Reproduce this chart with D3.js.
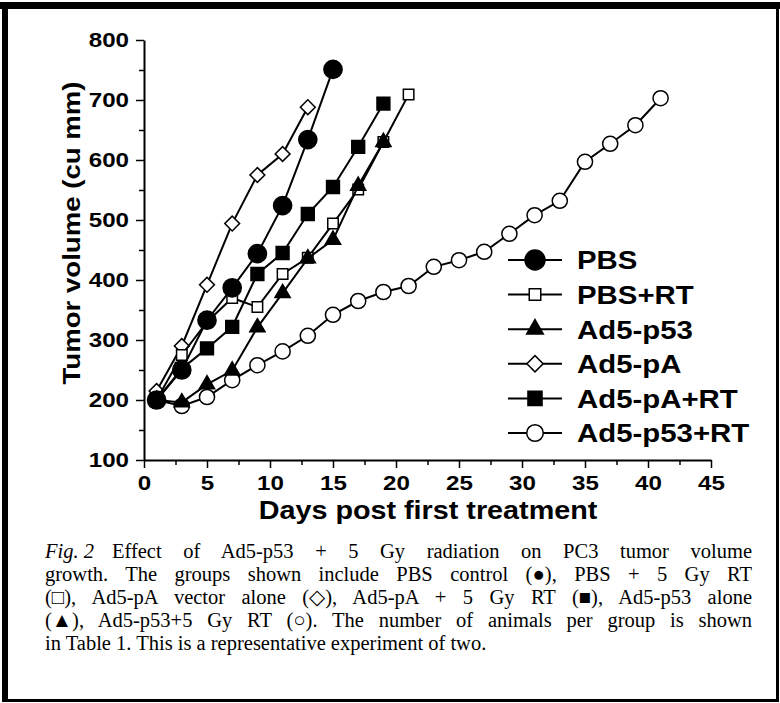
<!DOCTYPE html>
<html>
<head>
<meta charset="utf-8">
<script src="https://cdn.jsdelivr.net/npm/d3@7"></script>
<style>
  body { margin: 0; background: #fff; }
  svg { display: block; }
</style>
</head>
<body>
<svg id="chart"></svg>
<script>
// Tumor volume (cu mm) by day post first treatment
const seriesNames = ["PBS", "PBS+RT", "Ad5-p53", "Ad5-pA", "Ad5-pA+RT", "Ad5-p53+RT"];

const pbsDays = [1, 3, 5, 7, 9, 11, 13, 15];
const pbsVals = [200, 250, 333, 387, 444, 524, 634, 751];

const pbsRtDays = [1, 3, 5, 7, 9, 11, 13, 15, 17, 19, 21];
const pbsRtVals = [200, 275, 330, 370, 355, 410, 437, 494, 551, 630, 709];

const p53Days = [1, 3, 5, 7, 9, 11, 13, 15, 17, 19];
const p53Vals = [200, 196, 226, 249, 321, 378, 436, 467, 557, 630];

const pADays = [1, 3, 5, 7, 9, 11, 13];
const pAVals = [215, 290, 392, 494, 575, 610, 688];

const pARtDays = [1, 3, 5, 7, 9, 11, 13, 15, 17, 19];
const pARtVals = [200, 252, 286, 322, 410, 445, 510, 555, 622, 694];

const p53RtDays = [1, 3, 5, 7, 9, 11, 13, 15, 17, 19, 21, 23, 25, 27, 29, 31, 33, 35, 37, 39, 41];
const p53RtVals = [200, 190, 205, 233, 258, 281, 307, 342, 365, 380, 390, 422, 433, 447, 477, 508, 532, 597, 627, 658, 703];

const xTicks = [0, 5, 10, 15, 20, 25, 30, 35, 40, 45];
const yTicks = [100, 200, 300, 400, 500, 600, 700, 800];

const captionLines = [
    "Effect of Ad5-p53 + 5 Gy radiation on PC3 tumor volume",
    "growth. The groups shown include PBS control (\u25CF), PBS + 5 Gy RT",
    "(\u25A1), Ad5-pA vector alone (\u25C7), Ad5-pA + 5 Gy RT (\u25A0), Ad5-p53 alone",
    "(\u25B2), Ad5-p53+5 Gy RT (\u25CB). The number of animals per group is shown",
    "in Table 1. This is a representative experiment of two."
];

// marker style per series
const markerStyle = {
    "PBS":        { type: d3.symbolCircle,   size: 260, fill: "#000", rot: 0 },
    "PBS+RT":     { type: d3.symbolSquare,   size: 110, fill: "#fff", rot: 0 },
    "Ad5-p53":    { type: d3.symbolTriangle, size: 100, fill: "#000", rot: 0 },
    "Ad5-pA":     { type: d3.symbolSquare,   size: 110, fill: "#fff", rot: 45 },
    "Ad5-pA+RT":  { type: d3.symbolSquare,   size: 165, fill: "#000", rot: 0 },
    "Ad5-p53+RT": { type: d3.symbolCircle,   size: 180, fill: "#fff", rot: 0 }
};

const seriesData = {
    "PBS": pbsDays.map((d, i) => ({ day: d, v: pbsVals[i] })),
    "PBS+RT": pbsRtDays.map((d, i) => ({ day: d, v: pbsRtVals[i] })),
    "Ad5-p53": p53Days.map((d, i) => ({ day: d, v: p53Vals[i] })),
    "Ad5-pA": pADays.map((d, i) => ({ day: d, v: pAVals[i] })),
    "Ad5-pA+RT": pARtDays.map((d, i) => ({ day: d, v: pARtVals[i] })),
    "Ad5-p53+RT": p53RtDays.map((d, i) => ({ day: d, v: p53RtVals[i] }))
};

const W = 780, H = 703;
const svg = d3.select("#chart").attr("width", W).attr("height", H);

svg.append("rect").attr("width", W).attr("height", H).attr("fill", "#fff");

// page frame
svg.append("rect").attr("x", 0).attr("y", 2).attr("width", W).attr("height", 7).attr("fill", "#000");
svg.append("rect").attr("x", 2).attr("y", 2).attr("width", 6).attr("height", H - 3).attr("fill", "#000");
svg.append("rect").attr("x", 776).attr("y", 2).attr("width", 3).attr("height", H - 3).attr("fill", "#000");
svg.append("rect").attr("x", 2).attr("y", 699).attr("width", 777).attr("height", 3).attr("fill", "#000");

const x = d3.scaleLinear().domain([0, 45]).range([144, 711]);
const y = d3.scaleLinear().domain([100, 800]).range([460, 40]);

const axisFont = "'Liberation Sans', Arial, sans-serif";
const stretch = 1.15; // the original lettering is wider than Arial

// minor ticks
svg.append("g")
    .attr("transform", "translate(0,460)")
    .call(d3.axisBottom(x).tickValues(d3.range(2.5, 45, 5)).tickSize(5).tickFormat(""))
    .call(g => g.select(".domain").remove())
    .selectAll("line").attr("stroke", "#000").attr("stroke-width", 1.5);
svg.append("g")
    .attr("transform", "translate(144,0)")
    .call(d3.axisLeft(y).tickValues(d3.range(150, 800, 100)).tickSize(5).tickFormat(""))
    .call(g => g.select(".domain").remove())
    .selectAll("line").attr("stroke", "#000").attr("stroke-width", 1.5);

// X axis
const xAxisGroup = svg.append("g")
    .attr("transform", "translate(0,460)")
    .call(d3.axisBottom(x).tickValues(xTicks).tickSize(8).tickPadding(7).tickSizeOuter(0));
xAxisGroup.select(".domain").attr("stroke", "#000").attr("stroke-width", 2);
xAxisGroup.selectAll("line").attr("stroke", "#000").attr("stroke-width", 1.5);
xAxisGroup.selectAll("text")
    .attr("fill", "#000")
    .attr("transform", `scale(${stretch},1)`)
    .style("font-family", axisFont)
    .style("font-size", "21px")
    .style("font-weight", "bold");

// Y axis
const yAxisGroup = svg.append("g")
    .attr("transform", "translate(144,0)")
    .call(d3.axisLeft(y).tickValues(yTicks).tickSize(8).tickPadding(3).tickSizeOuter(0));
yAxisGroup.select(".domain").attr("stroke", "#000").attr("stroke-width", 2);
yAxisGroup.selectAll("line").attr("stroke", "#000").attr("stroke-width", 1.5);
yAxisGroup.selectAll("text")
    .attr("fill", "#000")
    .attr("x", -15 / stretch)
    .attr("transform", `scale(${stretch},1)`)
    .style("font-family", axisFont)
    .style("font-size", "21px")
    .style("font-weight", "bold");

// axis titles
svg.append("text")
    .attr("transform", `translate(428,519) scale(${stretch},1)`)
    .attr("text-anchor", "middle")
    .style("font-family", axisFont)
    .style("font-size", "25px")
    .style("font-weight", "bold")
    .text("Days post first treatment");

svg.append("text")
    .attr("transform", `translate(80,233) rotate(-90) scale(${stretch},1)`)
    .attr("text-anchor", "middle")
    .style("font-family", axisFont)
    .style("font-size", "24px")
    .style("font-weight", "bold")
    .text("Tumor volume (cu mm)");

// lines + markers; drawn so that PBS ends up on top
const drawOrder = ["Ad5-p53+RT", "Ad5-pA", "PBS+RT", "Ad5-p53", "Ad5-pA+RT", "PBS"];
const line = d3.line().x(d => x(d.day)).y(d => y(d.v));

drawOrder.forEach(name => {
    const st = markerStyle[name];
    const g = svg.append("g");
    g.append("path")
        .datum(seriesData[name])
        .attr("d", line)
        .attr("fill", "none")
        .attr("stroke", "#000")
        .attr("stroke-width", 2);
    g.selectAll("path.pt")
        .data(seriesData[name])
        .join("path")
        .attr("class", "pt")
        .attr("transform", d => `translate(${x(d.day)},${y(d.v)}) rotate(${st.rot})`)
        .attr("d", d3.symbol().type(st.type).size(st.size))
        .attr("fill", st.fill)
        .attr("stroke", "#000")
        .attr("stroke-width", 1.5);
});

// legend
const legend = svg.append("g");
seriesNames.forEach((name, i) => {
    const st = markerStyle[name];
    const ly = 260 + i * 34.6;
    legend.append("line")
        .attr("x1", 508).attr("x2", 562)
        .attr("y1", ly).attr("y2", ly)
        .attr("stroke", "#000").attr("stroke-width", 2);
    legend.append("path")
        .attr("transform", `translate(535,${ly}) rotate(${st.rot})`)
        .attr("d", d3.symbol().type(st.type).size(st.size * 1.2))
        .attr("fill", st.fill)
        .attr("stroke", "#000")
        .attr("stroke-width", 1.5);
    legend.append("text")
        .attr("transform", `translate(577,${ly}) scale(1.13,1)`)
        .attr("dy", "0.36em")
        .style("font-family", axisFont)
        .style("font-size", "26px")
        .style("font-weight", "bold")
        .text(name);
});

// caption, justified by widening the word gaps
const capFont = "'Liberation Serif', 'Times New Roman', serif";
const cap = svg.append("g")
    .style("font-family", capFont)
    .style("font-size", "20.5px")
    .attr("fill", "#000");

const figGap = 18;
captionLines.forEach((txt, i) => {
    const t = cap.append("text")
        .attr("x", 45)
        .attr("y", 558 + i * 23);
    let body = t;
    if (i === 0) {
        t.append("tspan").style("font-style", "italic").text("Fig. 2");
        body = t.append("tspan").attr("dx", figGap).text(txt);
    } else {
        t.text(txt);
    }
    if (i < captionLines.length - 1) {
        const gaps = (txt.match(/ /g) || []).length;
        const w = t.node().getComputedTextLength() + (i === 0 ? figGap : 0);
        if (gaps > 0) body.style("word-spacing", ((707 - w) / gaps) + "px");
    }
});
</script>
</body>
</html>
